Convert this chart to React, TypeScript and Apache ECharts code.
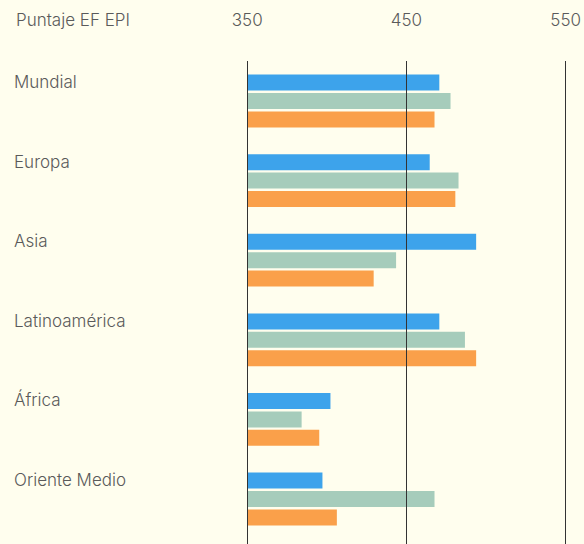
import React, { useEffect, useRef } from "react";
import * as echarts from "echarts";

const categories = ["Mundial", "Europa", "Asia", "Latinoamérica", "África", "Oriente Medio"];
const seriesNames = ["Serie 1", "Serie 2", "Serie 3"];
const blueValues = [470, 464, 493, 470, 402, 397];
const greenValues = [477, 482, 443, 486, 384, 467];
const orangeValues = [467, 480, 429, 493, 395, 406];
const axisTicks = [350, 450, 550];
const axisTitle = "Puntaje EF EPI";

const colors = ["#3DA3EB", "#A6CCBB", "#FAA04A"];
const FONT = "Inter";
const TEXT_COLOR = "#5a5a5a";

export default function App() {
  const ref = useRef<HTMLDivElement>(null);
  useEffect(() => {
    if (!ref.current) return;
    const chart = echarts.init(ref.current, null, { renderer: "svg" });
    const xmin = axisTicks[0];
    const xmax = axisTicks[axisTicks.length - 1];
    const interval = axisTicks[1] - axisTicks[0];
    const values = [blueValues, greenValues, orangeValues];
    chart.setOption({
      animation: false,
      backgroundColor: "#FFFEEE",
      title: {
        text: axisTitle,
        left: 16,
        top: 10,
        padding: 0,
        textStyle: { fontFamily: FONT, fontSize: 17, fontWeight: 300, color: TEXT_COLOR, lineHeight: 20 },
      },
      grid: [
        { left: 247.2, right: 16.6, top: 61.2, bottom: 5.2, containLabel: false },
        { left: 247.2, right: 16.6, top: 61, bottom: 0, containLabel: false },
      ],
      xAxis: [
        { gridIndex: 0, type: "value", min: xmin, max: xmax, interval, show: false },
        {
          gridIndex: 1,
          type: "value",
          min: xmin,
          max: xmax,
          interval,
          position: "top",
          z: 10,
          axisLine: { show: false },
          axisTick: { show: false },
          axisLabel: {
            show: true,
            margin: 41,
            verticalAlign: "middle",
            fontFamily: FONT,
            fontSize: 17,
            fontWeight: 300,
            color: TEXT_COLOR,
          },
          splitLine: { show: true, lineStyle: { color: "#333333", width: 1 } },
        },
      ],
      yAxis: [
        {
          gridIndex: 0,
          type: "category",
          inverse: true,
          data: categories,
          axisLine: { show: false },
          axisTick: { show: false },
          axisLabel: {
            align: "left",
            margin: 233.2,
            verticalAlign: "bottom",
            lineHeight: 38,
            fontFamily: FONT,
            fontSize: 17,
            fontWeight: 300,
            color: TEXT_COLOR,
          },
        },
        { gridIndex: 1, type: "value", min: 0, max: 1, show: false },
      ],
      series: values.map((vals, i) => ({
        name: seriesNames[i],
        type: "bar",
        xAxisIndex: 0,
        yAxisIndex: 0,
        data: vals,
        barWidth: 16,
        barGap: "15%",
        itemStyle: { color: colors[i] },
      })),
    });
    return () => chart.dispose();
  }, []);
  return <div ref={ref} style={{ width: 584, height: 544, position: "absolute", left: 0, top: 0 }} />;
}
